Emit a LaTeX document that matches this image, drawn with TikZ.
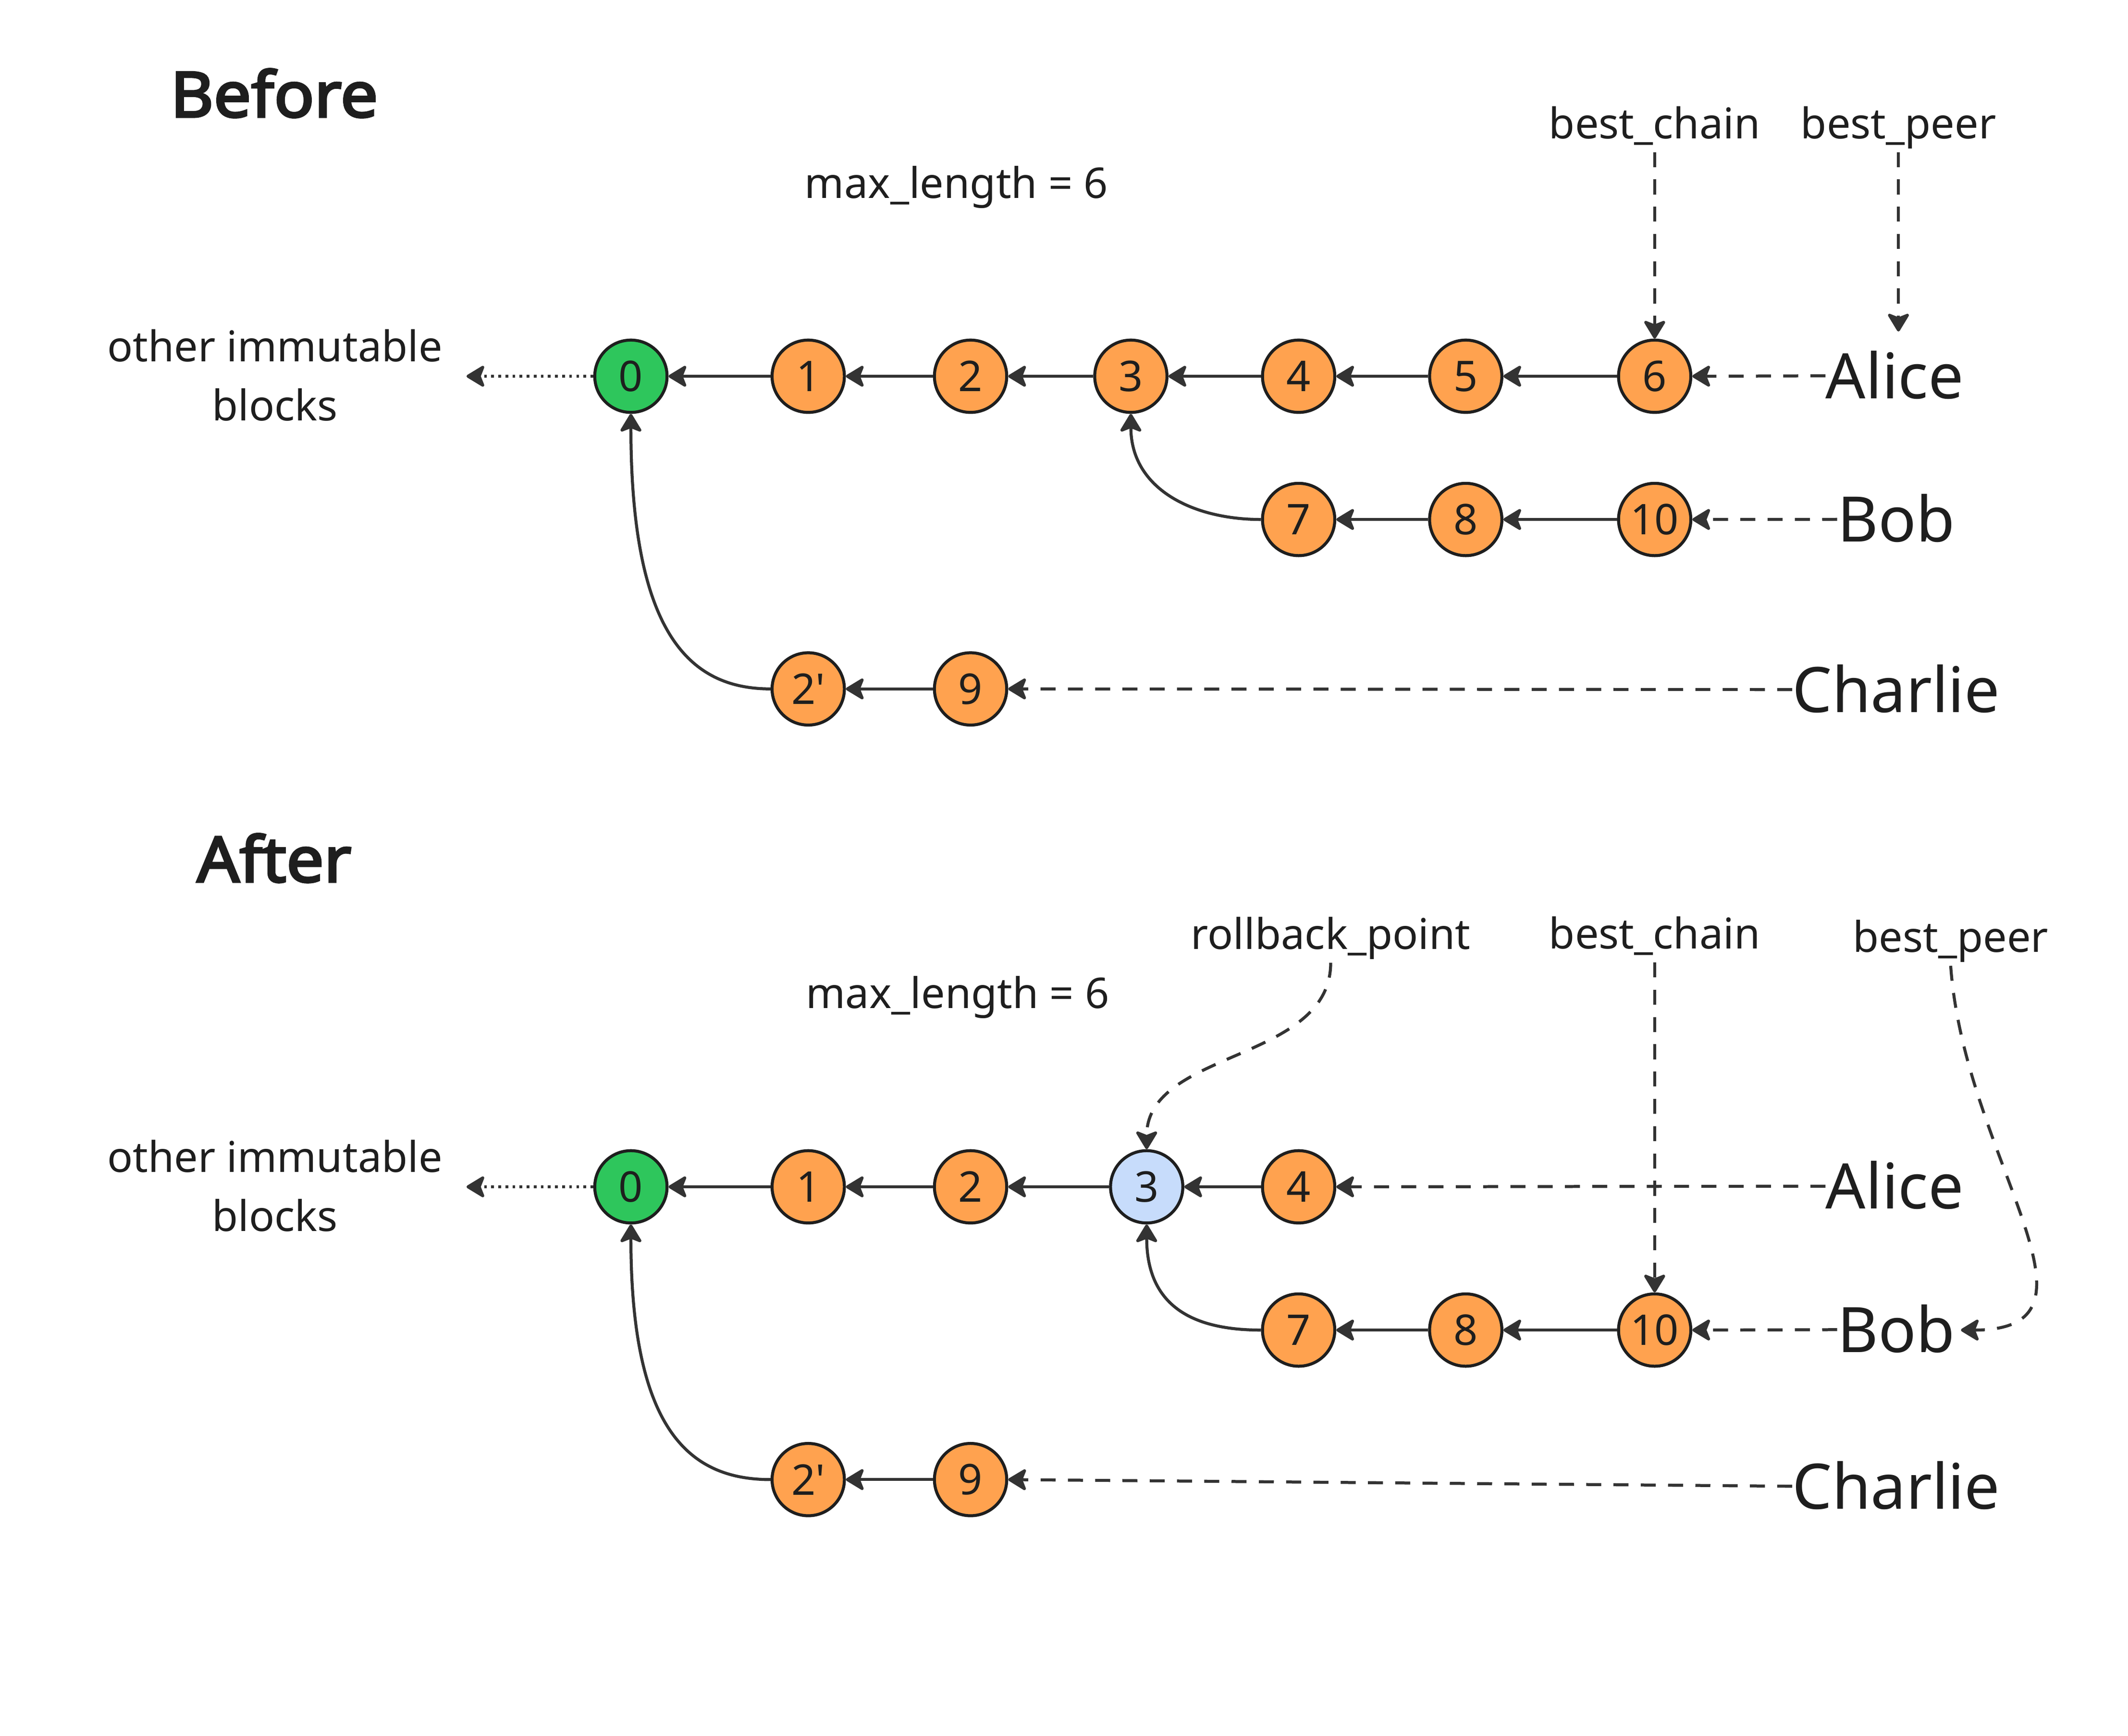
\documentclass[tikz,border=0pt]{standalone}
\usepackage{fontspec}
\setmainfont{Noto Sans}[AutoFakeBold=3]
\newfontfamily\ttlfont{Noto Sans}[FakeBold=3.5,FakeStretch=1.06]
\usetikzlibrary{arrows.meta}
\definecolor{orng}{HTML}{FFA24F}
\definecolor{grn}{HTML}{2EC65C}
\definecolor{blu}{HTML}{C7DCFB}
\definecolor{edgec}{HTML}{333333}
\definecolor{inkc}{HTML}{1E1E1E}
\begin{document}
\begin{tikzpicture}[x=1pt,y=-1pt,
  blk/.style={circle, draw=inkc, line width=2.2pt, fill=orng, minimum size=53pt, inner sep=0pt, font=\fontsize{31}{31}\selectfont, text=inkc},
  genesis/.style={blk, fill=grn},
  rollb/.style={blk, fill=blu},
  lbl/.style={anchor=base, inner sep=0pt, font=\fontsize{31}{31}\selectfont, text=inkc},
  peer/.style={anchor=base, inner sep=0pt, font=\fontsize{46}{46}\selectfont, text=inkc},
  ttl/.style={anchor=base, inner sep=0pt, font=\ttlfont\fontsize{46}{46}\selectfont, text=inkc},
  arr/.style={draw=edgec, line width=2.2pt, -{Stealth[length=15pt,width=18pt,inset=3.5pt,round]}},
  darr/.style={arr, dash pattern=on 11pt off 9pt},
  dotarr/.style={arr, dash pattern=on 2pt off 3.2pt},
]
\useasboundingbox[fill=white] (0,0) rectangle (1560,1272.3);

% ---------------- Before ----------------
\node[ttl] (before) at (201,85.7) {Before};
\node[lbl] (mlT) at (701,145.4) {max\_length = 6};
\node[lbl] (bcT) at (1213,101.5) {best\_chain};
\node[lbl] (bpT) at (1391.7,101.5) {best\_peer};
\node[lbl] (oiT1) at (201.5,265.2) {other immutable};
\node[lbl] (oiT2) at (201.5,308.4) {blocks};
\coordinate (oiTtip) at (342,275.8);
\coordinate (bpTend) at (1391.7,243);

\node[genesis] (t0) at (462.5,275.8) {0};
\node[blk] (t1) at (592.5,275.8) {1};
\node[blk] (t2) at (711.5,275.8) {2};
\node[blk] (t3) at (829,275.8) {3};
\node[blk] (t4) at (952,275.8) {4};
\node[blk] (t5) at (1074.5,275.8) {5};
\node[blk] (t6) at (1213,275.8) {6};
\node[blk] (t7) at (952,380.8) {7};
\node[blk] (t8) at (1074.5,380.8) {8};
\node[blk] (t10) at (1213,380.8) {10};
\node[blk] (t2p) at (592.5,505) {2\textquotesingle};
\node[blk] (t9) at (711.5,505) {9};

\node[peer] (aliceT) at (1389,292) {Alice};
\node[peer] (bobT) at (1390,397.2) {Bob};
\node[peer] (charlieT) at (1390,522) {Charlie};

\draw[arr] (t1) -- (t0);
\draw[arr] (t2) -- (t1);
\draw[arr] (t3) -- (t2);
\draw[arr] (t4) -- (t3);
\draw[arr] (t5) -- (t4);
\draw[arr] (t6) -- (t5);
\draw[arr] (t8) -- (t7);
\draw[arr] (t10) -- (t8);
\draw[arr] (t9) -- (t2p);
\draw[arr] (t7.west) .. controls +(-50,0) and +(0,55) .. (t3.south);
\draw[arr] (t2p.west) .. controls +(-60,0) and +(0,160) .. (t0.south);
\draw[dotarr] (t0.west) -- (oiTtip);
\draw[darr] ([yshift=16.5pt]aliceT.base west) -- (t6.east);
\draw[darr] ([yshift=16.5pt]bobT.base west) -- (t10.east);
\draw[darr] ([yshift=16.5pt]charlieT.base west) -- (t9.east);
\draw[darr] ([yshift=-10pt]bcT.base) -- (t6.north);
\draw[darr] ([yshift=-10pt]bpT.base) -- (bpTend);

% ---------------- After ----------------
\node[ttl] (after) at (201,646.4) {After};
\node[lbl] (mlB) at (702,739.1) {max\_length = 6};
\node[lbl] (rbB) at (975.5,695.7) {rollback\_point};
\node[lbl] (bcB) at (1213,695.5) {best\_chain};
\node[lbl] (bpB) at (1430,698) {best\_peer};
\node[lbl] (oiB1) at (201.5,859.4) {other immutable};
\node[lbl] (oiB2) at (201.5,902.6) {blocks};
\coordinate (oiBtip) at (342,870);
\coordinate (bpBend) at (1437.5,975);

\node[genesis] (b0) at (462.5,870) {0};
\node[blk] (b1) at (592.5,870) {1};
\node[blk] (b2) at (711.5,870) {2};
\node[rollb] (b3) at (840.6,870) {3};
\node[blk] (b4) at (952,870) {4};
\node[blk] (b7) at (952,975) {7};
\node[blk] (b8) at (1074.5,975) {8};
\node[blk] (b10) at (1213,975) {10};
\node[blk] (b2p) at (592.5,1084.6) {2\textquotesingle};
\node[blk] (b9) at (711.5,1084.6) {9};

\node[peer] (aliceB) at (1389,886) {Alice};
\node[peer] (bobB) at (1390,991.2) {Bob};
\node[peer] (charlieB) at (1390,1106) {Charlie};

\draw[arr] (b1) -- (b0);
\draw[arr] (b2) -- (b1);
\draw[arr] (b3) -- (b2);
\draw[arr] (b4) -- (b3);
\draw[arr] (b8) -- (b7);
\draw[arr] (b10) -- (b8);
\draw[arr] (b9) -- (b2p);
\draw[arr] (b7.west) .. controls +(-50,0) and +(0,60) .. (b3.south);
\draw[arr] (b2p.west) .. controls +(-60,0) and +(0,150) .. (b0.south);
\draw[dotarr] (b0.west) -- (oiBtip);
\draw[darr] ([yshift=16.5pt]aliceB.base west) -- (b4.east);
\draw[darr] ([yshift=16.5pt]bobB.base west) -- (b10.east);
\draw[darr] ([yshift=16.5pt]charlieB.base west) -- (b9.east);
\draw[darr] ([yshift=-10pt]bcB.base) -- (b10.north);
\draw[darr] ([yshift=-10pt]rbB.base) .. controls +(0,73) and +(0,-73) .. (b3.north);
\draw[darr] ([yshift=-10pt]bpB.base) .. controls +(10,141) and +(117.5,0) .. (bpBend);
\end{tikzpicture}
\end{document}
